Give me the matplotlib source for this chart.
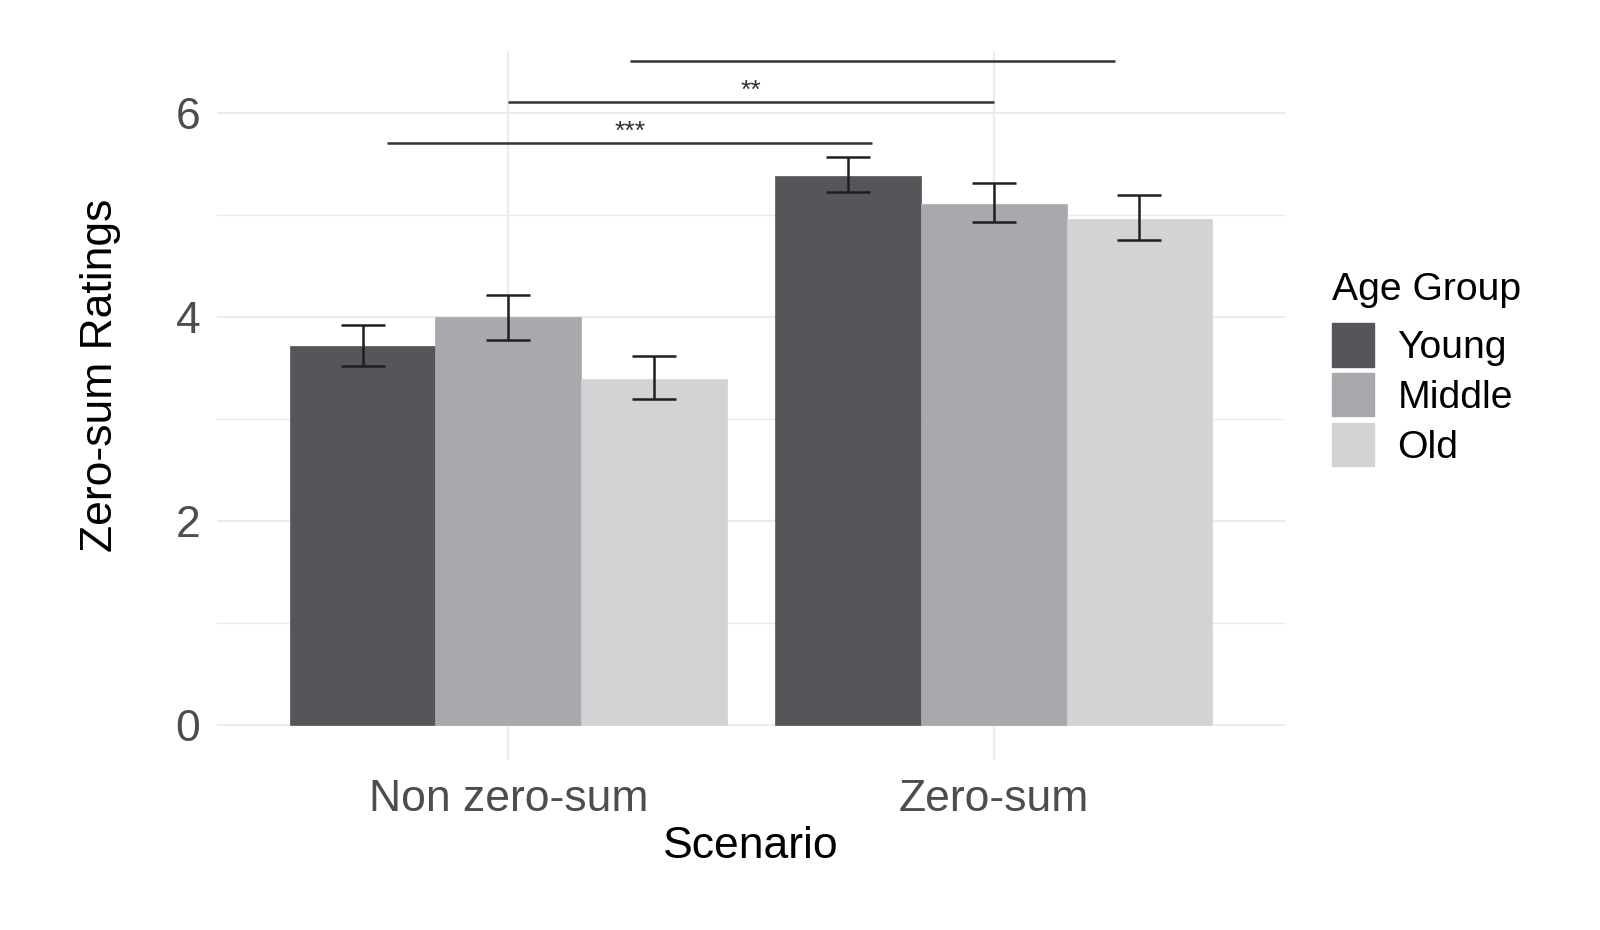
import numpy as np
import matplotlib.pyplot as plt
from matplotlib.patches import Patch

plt.rcParams.update({
    "font.family": ["Liberation Sans", "DejaVu Sans"],
})

scenarios = ["Non zero-sum", "Zero-sum"]
groups = ["Young", "Middle", "Old"]
colors = ["#555659", "#a8a9ac", "#d2d3d5"]

# means and error bar ends, per group: [Non zero-sum, Zero-sum]
means = {
    "Young": [3.72, 5.385],
    "Middle": [4.005, 5.11],
    "Old": [3.395, 4.965],
}
err_lo = {
    "Young": [3.52, 5.225],
    "Middle": [3.78, 4.93],
    "Old": [3.20, 4.76],
}
err_hi = {
    "Young": [3.925, 5.575],
    "Middle": [4.22, 5.32],
    "Old": [3.62, 5.20],
}

# significance brackets: (x start, x end, y, label)
sig_x0 = [-0.25, 0.0, 0.25]
sig_x1 = [0.75, 1.0, 1.25]
sig_y = [5.71, 6.11, 6.51]
sig_lab = ["***", "**", ""]

fig = plt.figure(figsize=(16, 9.3), dpi=100)
ax = fig.add_axes([217/1600, 1-760/930, (1285-217)/1600, (760-51)/930])

x = np.arange(len(scenarios))
w = 0.3
for i, g in enumerate(groups):
    xp = x + (i - 1) * w
    ax.bar(xp, means[g], width=w, color=colors[i], zorder=2,
           edgecolor=colors[i], linewidth=0.5)
    m = np.array(means[g])
    lo = m - np.array(err_lo[g])
    hi = np.array(err_hi[g]) - m
    ax.errorbar(xp, m, yerr=[lo, hi], fmt="none", ecolor="#1f1f1f",
                elinewidth=1.8, capsize=16, capthick=1.8, zorder=3)

for x0, x1, y, lab in zip(sig_x0, sig_x1, sig_y, sig_lab):
    ax.plot([x0, x1], [y, y], color="#333333", lw=1.8, zorder=4,
            solid_capstyle="butt", clip_on=False)
    if lab:
        ax.text((x0 + x1) / 2, y + 0.11, lab, ha="center", va="center",
                fontsize=19, color="#333333")

ax.set_xlim(-0.6, 1.6)
ax.set_ylim(-0.34, 6.61)
ax.set_xticks(x)
ax.set_xticklabels(scenarios)
ax.set_yticks([0, 2, 4, 6])
ax.set_yticks([1, 3, 5], minor=True)
ax.tick_params(axis="both", which="both", length=0, labelsize=32,
               labelcolor="#4d4d4d")
ax.tick_params(axis="y", pad=12)
ax.tick_params(axis="x", pad=14)
ax.grid(True, which="major", color="#ebebeb", lw=1.5, zorder=0)
ax.grid(True, which="minor", axis="y", color="#ebebeb", lw=1.0, zorder=0)
ax.set_axisbelow(True)
for s in ax.spines.values():
    s.set_visible(False)

ax.set_xlabel("Scenario", fontsize=32, labelpad=4)
ax.set_ylabel("Zero-sum Ratings", fontsize=32)
ax.yaxis.set_label_coords(-0.09, 0.543)

handles = [Patch(facecolor=c, edgecolor=c) for c in colors]
leg = fig.legend(handles, groups, title="Age Group", loc="upper left",
                 bbox_to_anchor=(1332/1600, 1-272/930), frameon=False,
                 fontsize=28.2, title_fontsize=28.2, handlelength=1.07,
                 handleheight=1.33, handletextpad=0.6, labelspacing=0.16,
                 borderpad=0, borderaxespad=0)
leg._legend_box.align = "left"
leg._legend_box.sep = 11

fig.savefig("out.png", dpi=100)
